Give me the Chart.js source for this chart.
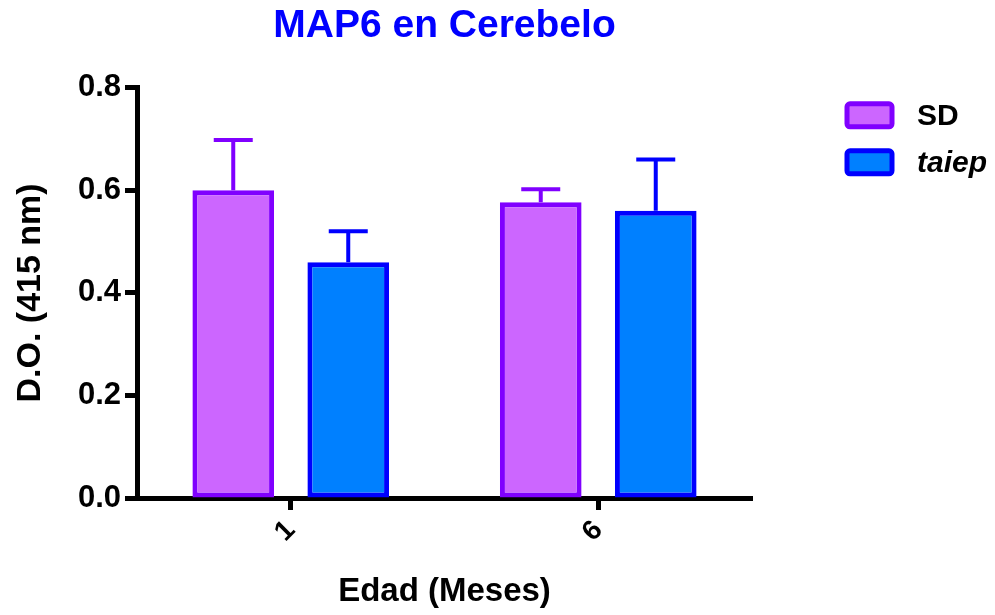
<!DOCTYPE html>
<html>
<head>
<meta charset="utf-8">
<script src="https://cdn.jsdelivr.net/npm/chart.js@4.4.1/dist/chart.umd.min.js"></script>
<style>
  html, body { margin: 0; padding: 0; background: #fff; }
  #wrap { width: 995px; height: 615px; }
</style>
</head>
<body>
<div id="wrap"><canvas id="c" width="995" height="615"></canvas></div>
<script>
// Age groups (months) and optical density readings at 415 nm
const ages = ['1', '6'];
const sdMeans = [0.60, 0.577];
const sdErrors = [0.098, 0.025];
const taiepMeans = [0.46, 0.56];
const taiepErrors = [0.06, 0.10];
const yTicks = [0.0, 0.2, 0.4, 0.6, 0.8];

const FONT = '"Liberation Sans", Arial, Helvetica, sans-serif';

// Upward-only error bars with caps, in the dataset border colour
const errorBars = {
  id: 'errorBars',
  afterDatasetsDraw(chart) {
    const ctx = chart.ctx;
    const yScale = chart.scales.y;
    chart.data.datasets.forEach((ds, di) => {
      const meta = chart.getDatasetMeta(di);
      meta.data.forEach((bar, i) => {
        const top = yScale.getPixelForValue(ds.data[i] + ds.errors[i]);
        ctx.save();
        ctx.strokeStyle = ds.borderColor;
        ctx.lineWidth = 4;
        ctx.beginPath();
        ctx.moveTo(bar.x, bar.y);
        ctx.lineTo(bar.x, top);
        ctx.moveTo(bar.x - 19.5, top);
        ctx.lineTo(bar.x + 19.5, top);
        ctx.stroke();
        ctx.restore();
      });
    });
  }
};

// Legend at the right of the plot: outlined swatch followed by the series name
const sideLegend = {
  id: 'sideLegend',
  afterDraw(chart) {
    const ctx = chart.ctx;
    const area = chart.chartArea;
    const x0 = area.right + 95;
    let y0 = area.top + 16;
    chart.data.datasets.forEach((ds) => {
      ctx.save();
      ctx.fillStyle = ds.backgroundColor;
      ctx.strokeStyle = ds.borderColor;
      ctx.lineWidth = 5;
      ctx.beginPath();
      ctx.roundRect(x0, y0, 45, 23, 3);
      ctx.fill();
      ctx.stroke();
      ctx.fillStyle = '#000';
      ctx.font = (ds.legendItalic ? 'italic ' : '') + 'bold 30px ' + FONT;
      ctx.textBaseline = 'middle';
      ctx.textAlign = 'left';
      ctx.fillText(ds.label, x0 + 70, y0 + 13);
      ctx.restore();
      y0 += 47;
    });
  }
};

new Chart(document.getElementById('c'), {
  type: 'bar',
  data: {
    labels: ages,
    datasets: [
      {
        label: 'SD',
        data: sdMeans,
        errors: sdErrors,
        backgroundColor: '#cc66ff',
        borderColor: '#8000ff',
        borderWidth: 5,
        borderSkipped: false,
        legendItalic: false
      },
      {
        label: 'taiep',
        data: taiepMeans,
        errors: taiepErrors,
        backgroundColor: '#0080ff',
        borderColor: '#0000ff',
        borderWidth: 5,
        borderSkipped: false,
        legendItalic: true
      }
    ]
  },
  options: {
    responsive: false,
    animation: false,
    devicePixelRatio: 1,
    datasets: {
      bar: { categoryPercentage: 0.748, barPercentage: 0.71 }
    },
    layout: { padding: { left: 0, right: 243, top: 0, bottom: 0 } },
    plugins: {
      legend: { display: false },
      tooltip: { enabled: false },
      title: {
        display: true,
        text: 'MAP6 en Cerebelo',
        color: '#0000ff',
        fullSize: false,
        font: { family: FONT, size: 39, weight: 'bold' },
        padding: { top: 3, bottom: 38 }
      }
    },
    scales: {
      x: {
        type: 'category',
        offset: true,
        border: { display: true, color: '#000', width: 5 },
        grid: {
          display: true,
          drawOnChartArea: false,
          drawTicks: true,
          tickLength: 12,
          tickWidth: 5,
          tickColor: '#000',
          offset: false
        },
        ticks: {
          color: '#000',
          font: { family: FONT, size: 28, weight: 'bold' },
          minRotation: 45,
          maxRotation: 45,
          padding: 4
        },
        title: {
          display: true,
          text: 'Edad (Meses)',
          color: '#000',
          font: { family: FONT, size: 33, weight: 'bold' },
          padding: { top: 0, bottom: 3 }
        },
        afterFit(scale) { scale.height = 117; }
      },
      y: {
        min: 0,
        max: 0.8,
        border: { display: true, color: '#000', width: 5 },
        grid: {
          display: true,
          drawOnChartArea: false,
          drawTicks: true,
          tickLength: 12,
          tickWidth: 5,
          tickColor: '#000'
        },
        afterBuildTicks(scale) {
          scale.ticks = yTicks.map(v => ({ value: v }));
        },
        ticks: {
          color: '#000',
          font: { family: FONT, size: 31, weight: 'bold' },
          padding: 4,
          callback: (v) => Number(v).toFixed(1)
        },
        title: {
          display: true,
          text: 'D.O. (415 nm)',
          color: '#000',
          font: { family: FONT, size: 34, weight: 'bold' },
          padding: { top: 10, bottom: 0 }
        },
        afterFit(scale) { scale.width = 137; }
      }
    }
  },
  plugins: [errorBars, sideLegend]
});
</script>
</body>
</html>
